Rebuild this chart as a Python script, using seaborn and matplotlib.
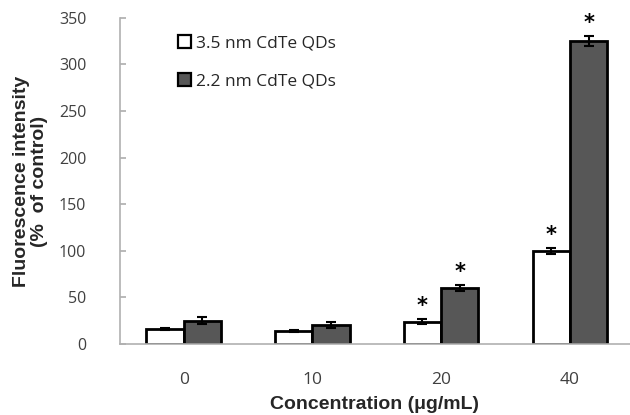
import matplotlib
matplotlib.use("Agg")
import matplotlib.pyplot as plt
import seaborn as sns
import pandas as pd
import numpy as np

concentrations = ["0", "10", "20", "40"]
series_names = ["3.5 nm CdTe QDs", "2.2 nm CdTe QDs"]
values_35 = [16, 14, 24, 100]
values_22 = [25, 20.5, 60, 325]
err_35 = [1, 1.5, 3, 3]
err_22 = [4, 3.5, 3, 5]
sig_35 = [False, False, True, True]
sig_22 = [False, False, True, True]

sns.set_theme(style="white")
plt.rcParams['font.family'] = ['Open Sans', 'DejaVu Sans']

df = pd.DataFrame({
    "conc": concentrations * 2,
    "value": values_35 + values_22,
    "series": [series_names[0]] * 4 + [series_names[1]] * 4,
})

fig = plt.figure(figsize=(6.3, 4.15), dpi=100)
ax = fig.add_axes([0.19, 0.171, 0.81, 0.786])

sns.barplot(data=df, x="conc", y="value", hue="series", order=concentrations,
            hue_order=series_names, palette=["white", "#575757"], width=0.58,
            errorbar=None, edgecolor="black", linewidth=2.0, ax=ax, legend=True)

errs = [err_35, err_22]
sigs = [sig_35, sig_22]
bar_containers = list(ax.containers)
for si, cont in enumerate(bar_containers):
    for bi, patch in enumerate(cont.patches):
        xc = patch.get_x() + patch.get_width() / 2
        h = patch.get_height()
        e = errs[si][bi]
        ax.errorbar(xc, h, yerr=e, fmt="none", ecolor="black", elinewidth=1.5,
                    capsize=3.5, capthick=1.5, zorder=5)
        if sigs[si][bi]:
            ax.text(xc, h + e + 14, "*", ha="center", va="center", fontsize=15,
                    fontweight="bold", color="black", family=["DejaVu Sans"])

ax.set_ylim(0, 350)
ax.set_xlim(-0.497, 3.467)
ax.set_yticks(np.arange(0, 351, 50))
for s in ["top", "right"]:
    ax.spines[s].set_visible(False)
for s in ["left", "bottom"]:
    ax.spines[s].set_color("#b0b0b0")
    ax.spines[s].set_linewidth(1.2)
ax.tick_params(axis="y", which="both", left=True, direction="in", length=4,
               color="#b0b0b0", labelsize=11.5, labelcolor="#404040", pad=24)
ax.tick_params(axis="x", bottom=False, labelsize=12.5, labelcolor="#404040", pad=14)

ax.set_xlabel("Concentration (μg/mL)", fontsize=14, fontweight="bold",
              family=["Liberation Sans", "DejaVu Sans"], labelpad=6)
ax.set_ylabel("Fluorescence intensity\n(%  of control)", fontsize=14,
              fontweight="bold", family=["Liberation Sans", "DejaVu Sans"],
              labelpad=8, linespacing=1.05)

leg = ax.legend(loc="upper left", bbox_to_anchor=(0.084, 0.995), frameon=False,
                fontsize=12.5, handlelength=0.75, handleheight=0.75,
                handletextpad=0.25, labelspacing=1.25)
for h in leg.legend_handles:
    h.set_linewidth(1.6)

fig.savefig("out.png", dpi=100)
